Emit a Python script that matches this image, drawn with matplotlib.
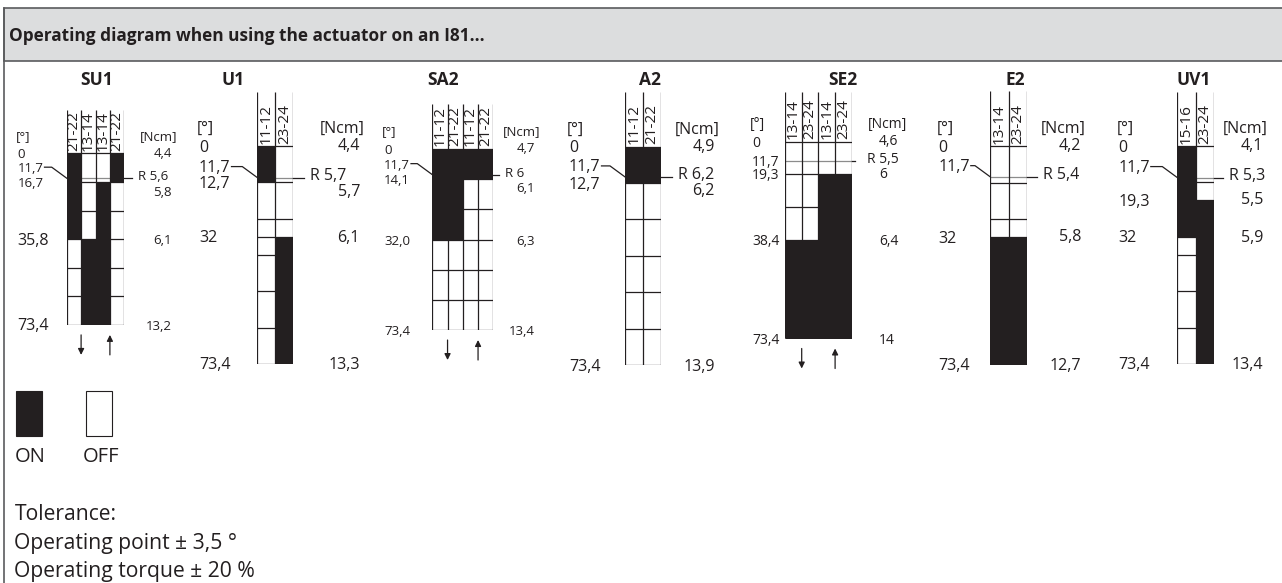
import numpy as np
import matplotlib.pyplot as plt
from matplotlib.patches import Rectangle

plt.rcParams['font.family'] = ['Open Sans', 'DejaVu Sans']

W, H = 1282, 583
INK = "#231f20"
FRAME = "#5a5b5d"
HEAD_BG = "#dcddde"
R_GRAY = "#8c8c8c"

# ---------------------------------------------------------------------------
# Data
# ---------------------------------------------------------------------------
title = "Operating diagram when using the actuator on an I81..."
switches = ["SU1", "U1", "SA2", "A2", "SE2", "E2", "UV1"]

contacts = {
    "SU1": ["21-22", "13-14", "13-14", "21-22"],
    "U1":  ["11-12", "23-24"],
    "SA2": ["11-12", "21-22", "11-12", "21-22"],
    "A2":  ["11-12", "21-22"],
    "SE2": ["13-14", "23-24", "13-14", "23-24"],
    "E2":  ["13-14", "23-24"],
    "UV1": ["15-16", "23-24"],
}

# angle marks [°] (second one is always the R point)
angle_labels = {
    "SU1": ["0", "11,7", "16,7", "35,8", "73,4"],
    "U1":  ["0", "11,7", "12,7", "32", "73,4"],
    "SA2": ["0", "11,7", "14,1", "32,0", "73,4"],
    "A2":  ["0", "11,7", "12,7", "73,4"],
    "SE2": ["0", "11,7", "19,3", "38,4", "73,4"],
    "E2":  ["0", "11,7", "32", "73,4"],
    "UV1": ["0", "11,7", "19,3", "32", "73,4"],
}

# torque at each angle mark [Ncm]
torque_labels = {
    "SU1": ["4,4", "5,6", "5,8", "6,1", "13,2"],
    "U1":  ["4,4", "5,7", "5,7", "6,1", "13,3"],
    "SA2": ["4,7", "6", "6,1", "6,3", "13,4"],
    "A2":  ["4,9", "6,2", "6,2", "13,9"],
    "SE2": ["4,6", "5,5", "6", "6,4", "14"],
    "E2":  ["4,2", "5,4", "5,8", "12,7"],
    "UV1": ["4,1", "5,3", "5,5", "5,9", "13,4"],
}

# where each angle mark sits on the drawn (non-linear) scale, in grid rows
scale_rows = {
    "SU1": [0, 0.87, 1, 3, 6],
    "U1":  [0, 0.87, 1, 2.5, 6],
    "SA2": [0, 0.85, 1, 3, 6],
    "A2":  [0, 0.83, 1, 6],
    "SE2": [0, 0.58, 1, 3, 6],
    "E2":  [0, 0.84, 2.5, 6],
    "UV1": [0, 0.87, 1.5, 2.5, 6],
}

# ON ranges per contact column, in degrees
on_ranges = {
    "SU1": [[(0, 35.8)], [(35.8, 73.4)], [(16.7, 73.4)], [(0, 16.7)]],
    "U1":  [[(0, 12.7)], [(32, 73.4)]],
    "SA2": [[(0, 32.0)], [(0, 32.0)], [(0, 14.1)], [(0, 14.1)]],
    "A2":  [[(0, 12.7)], [(0, 12.7)]],
    "SE2": [[(38.4, 73.4)], [(38.4, 73.4)], [(19.3, 73.4)], [(19.3, 73.4)]],
    "E2":  [[(32, 73.4)], [(32, 73.4)]],
    "UV1": [[(0, 32)], [(19.3, 73.4)]],
}

has_arrows = ["SU1", "SA2", "SE2"]
legend_labels = ["ON", "OFF"]
tolerance_lines = ["Tolerance:", "Operating point \u00b1 3,5 \u00b0",
                   "Operating torque \u00b1 20 %"]

# ---------------------------------------------------------------------------
# Layout (pixels)
# ---------------------------------------------------------------------------
layout = {
    "SU1": dict(gx=66.7, top=153.3, cw=14.4, rh=28.6, lx=17.5, rx=172, rtx=138, fs=9.5, tx=97),
    "U1":  dict(gx=257.3, top=146, cw=18.0, rh=36.3, lx=199, rx=360, rtx=310, fs=11.5, tx=233),
    "SA2": dict(gx=432.3, top=149, cw=15.25, rh=30.17, lx=384, rx=535, rtx=505, fs=9.5, tx=443),
    "A2":  dict(gx=625, top=146.7, cw=17.85, rh=36.4, lx=569, rx=715, rtx=678, fs=11.5, tx=650),
    "SE2": dict(gx=785, top=141.7, cw=16.7, rh=32.8, lx=752, rx=879, rtx=866.7, fs=10, tx=843),
    "E2":  dict(gx=990, top=146, cw=18.65, rh=36.5, lx=938.3, rx=1081, rtx=1043.3, fs=11.5, tx=1015),
    "UV1": dict(gx=1177.3, top=146, cw=18.5, rh=36.3, lx=1118.3, rx=1263, rtx=1229, fs=11.5, tx=1194),
}
grid_lines = {
    "SU1": [1, 2, 3, 4, 5],
    "U1":  [1, 2, 2.5, 3, 4, 5],
    "SA2": [1, 2, 3, 4, 5],
    "A2":  [1, 2, 3, 4, 5],
    "SE2": [1, 2, 3],
    "E2":  [1, 2, 2.5],
    "UV1": [1, 1.5, 2.5, 3, 4, 5],
}
big_labels = {"SU1": ["35,8", "73,4"]}
no_leader = ["SE2"]
left_aligned_torque = ["SE2"]
LW = 0.9

fig = plt.figure(figsize=(W / 100, H / 100), dpi=100)
renderer = fig.canvas.get_renderer()

# background: frame, header band, titles, legend
bg = fig.add_axes([0, 0, 1, 1], zorder=0)
bg.set_xlim(0, W)
bg.set_ylim(H, 0)
bg.axis("off")
bg.add_patch(Rectangle((3.5, 7.5), W, 53.5, facecolor=HEAD_BG, edgecolor=FRAME, lw=1.2))
bg.plot([3.5, 3.5], [7.5, H + 5], color=FRAME, lw=1.2)
bg.text(9, 36, title, fontsize=12.45, fontweight="bold", color=INK, va="center", ha="left")

for name in switches:
    bg.text(layout[name]["tx"], 80, name, fontsize=12.5, fontweight="bold",
            color=INK, ha="center", va="center")

# legend
bg.add_patch(Rectangle((15.7, 390.7), 26.6, 45, facecolor=INK, edgecolor=INK, lw=0.8))
bg.add_patch(Rectangle((86, 390.7), 25.7, 45, facecolor="white", edgecolor=INK, lw=0.8))
bg.text(14.5, 457, legend_labels[0], fontsize=14.5, color=INK, va="center")
bg.text(82.5, 457, legend_labels[1], fontsize=14.5, color=INK, va="center")
for i, line in enumerate(tolerance_lines):
    bg.text(14.5, 515 + i * 28.2, line, fontsize=15.2, color=INK, va="center")

# ---------------------------------------------------------------------------
# One axes per switch diagram (6 rows of grid + 1.5 rows of header)
# ---------------------------------------------------------------------------
for name in switches:
    L = layout[name]
    ncol = len(contacts[name])
    cw, rh, fs = L["cw"], L["rh"], L["fs"]
    ax = fig.add_axes([L["gx"] / W, 1 - (L["top"] + 6 * rh) / H,
                       ncol * cw / W, 7.5 * rh / H], zorder=2)
    ax.set_xlim(0, ncol)
    ax.set_ylim(6, -1.5)
    ax.axis("off")
    px, py = 1 / cw, 1 / rh

    angles = [float(a.replace(",", ".")) for a in angle_labels[name]]
    rows = scale_rows[name]
    r_row = rows[1]

    # grid
    ax.hlines([0] + grid_lines[name] + [6], 0, ncol, color=INK, lw=LW, zorder=2)
    ax.hlines(r_row, 0, ncol, color=R_GRAY, lw=LW, zorder=2)
    ax.vlines(np.arange(ncol + 1), -1.5, 6, color=INK, lw=LW, zorder=2)

    # ON cells
    for c, ranges in enumerate(on_ranges[name]):
        for a0, a1 in ranges:
            y0, y1 = np.interp([a0, a1], angles, rows)
            ax.bar(c + 0.5, y1 - y0, bottom=y0, width=1, color=INK,
                   linewidth=0, zorder=3)

    # contact names
    for c, lab in enumerate(contacts[name]):
        ax.text(c + 0.5, -2.5 * py, lab, rotation=90, ha="center", va="bottom",
                fontsize=11, color=INK)

    # left scale [°]
    xl = (L["lx"] - L["gx"]) * px
    ax.text(xl - 2 * px, -17 * py, "[\u00b0]", fontsize=fs, color=INK,
            ha="left", va="center")
    for i, (lab, a) in enumerate(zip(angle_labels[name], angles)):
        y = np.interp(a, angles, rows)
        leader = i == 1 and name not in no_leader
        if leader:
            y -= 11 * py
        size = 11.5 if lab in big_labels.get(name, []) else fs
        t = ax.text(xl, y + 1.5 * py, lab, fontsize=size, color=INK,
                    ha="left", va="center")
        if leader:
            bb = t.get_window_extent(renderer)
            x_end = ax.transData.inverted().transform((bb.x1, 0))[0] + 1 * px
            ax.plot([x_end, -15 * px, 0], [y, y, r_row], color=INK, lw=LW,
                    clip_on=False, zorder=2)

    # right scale [Ncm]
    grid_right = L["gx"] + ncol * cw
    xr = (L["rx"] - L["gx"]) * px
    ha = "left" if name in left_aligned_torque else "right"
    if ha == "right":
        ax.text(xr + 5 * px, -17 * py, "[Ncm]", fontsize=fs, color=INK,
                ha="right", va="center")
    else:
        ax.text(xr - 11 * px, -17 * py, "[Ncm]", fontsize=fs, color=INK,
                ha="left", va="center")
    for i, (lab, a) in enumerate(zip(torque_labels[name], angles)):
        y = np.interp(a, angles, rows)
        if i == 1:
            ax.text((L["rtx"] - L["gx"]) * px, r_row - 1.5 * py, "R " + lab,
                    fontsize=fs, color=INK, ha="left", va="center")
            continue
        if i == 2:
            y = max(y, r_row + 14 * py)
        elif i > 0:
            y = y + 1.5 * py
        ax.text(xr, y, lab, fontsize=fs, color=INK, ha=ha, va="center")
    lead_gap = 12 if name in no_leader else 6
    ax.plot([ncol, ncol + (L["rtx"] - lead_gap - grid_right) * px], [r_row, r_row],
            color=INK, lw=LW, clip_on=False, zorder=2)

    # direction arrows
    if name in has_arrows:
        y_a, y_b = 6 + 10 * py, 6 + 30 * py
        ax.annotate("", xy=(1, y_b), xytext=(1, y_a), annotation_clip=False,
                    arrowprops=dict(arrowstyle="-|>", color=INK, lw=0.9,
                                    mutation_scale=9, shrinkA=0, shrinkB=0))
        ax.annotate("", xy=(3, y_a), xytext=(3, y_b), annotation_clip=False,
                    arrowprops=dict(arrowstyle="-|>", color=INK, lw=0.9,
                                    mutation_scale=9, shrinkA=0, shrinkB=0))

fig.savefig("out.png", dpi=100)
